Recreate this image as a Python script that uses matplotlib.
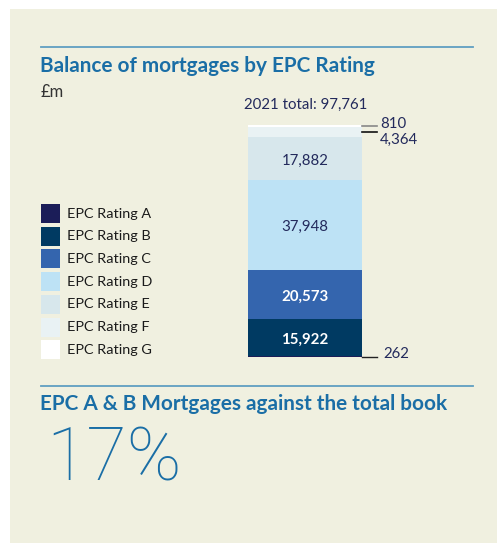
import matplotlib
matplotlib.use("Agg")
import matplotlib.pyplot as plt
from matplotlib.patches import Rectangle

# --- Dados (£m) ---
ratings = ["EPC Rating A", "EPC Rating B", "EPC Rating C", "EPC Rating D",
           "EPC Rating E", "EPC Rating F", "EPC Rating G"]
balances = [262, 15922, 20573, 37948, 17882, 4364, 810]
year = 2021

colors = ["#1b1d58", "#003a62", "#3465ae", "#bde2f5", "#d7e7ec", "#e9f2f4", "#ffffff"]
bg = "#f0f0e0"
blue = "#1a6ea6"
navy = "#232a5c"

W, H = 497, 543
fig = plt.figure(figsize=(W / 100, H / 100), dpi=100)
fig.patch.set_facecolor("white")

def fx(px):
    return px / W

def fy(py):
    return 1 - py / H

# painel de fundo
fig.patches.append(Rectangle((fx(10), 0), 1 - fx(10), fy(9), transform=fig.transFigure,
                             facecolor=bg, edgecolor="none", zorder=-5))

# linhas divisórias
for y in (47, 386):
    fig.add_artist(plt.Line2D([fx(41), fx(473)], [fy(y), fy(y)], color="#5f9fc2", lw=1.3))

fig.text(fx(40), fy(66), "Balance of mortgages by EPC Rating", family="Lato", weight="bold",
         fontsize=14.95, color=blue, va="center")
fig.text(fx(41), fy(92), "£m", family="Lato", fontsize=12, color="#333333", va="center")

total = sum(balances)
fig.text(fx(306), fy(105), f"{year} total: {total:,}", family="Lato", fontsize=10.8,
         color=navy, ha="center", va="center")

# --- Barra empilhada ---
bar_l, bar_r, bar_b, bar_t = 248, 362, 357, 125
ax = fig.add_axes([fx(bar_l), fy(bar_b), fx(440) - fx(bar_l), fy(bar_t) - fy(bar_b)])
ax.set_xlim(0, (440 - bar_l) / (bar_r - bar_l))
ax.set_ylim(0, total)
ax.axis("off")
px = total / (bar_b - bar_t)  # valor correspondente a 1 pixel

bottom = 0
mids = []
for val, col in zip(balances, colors):
    ax.bar(0.5, val, width=1, bottom=bottom, color=col, edgecolor="none")
    mids.append(bottom + val / 2)
    bottom += val

# rótulos dentro da barra (B..E)
for i in (1, 2, 3, 4):
    txt_col = "white" if i in (1, 2) else navy
    ax.text(0.5, mids[i] - 2.5 * px, f"{balances[i]:,}", ha="center", va="center", family="Lato",
            weight="bold" if i in (1, 2) else "normal", fontsize=10.8, color=txt_col)

# linhas de chamada para os segmentos pequenos
x0, x1 = 1.0, 1 + 15 / (bar_r - bar_l)
ax.plot([x0, x1], [0, 0], color="#222222", lw=1, clip_on=False)
ax.text(1 + 21 / (bar_r - bar_l), 3 * px, f"{balances[0]:,}", family="Lato",
        fontsize=10.8, color=navy, va="center", ha="left")

yg = total - 0.6 * px
yf = total - 6.5 * px
ax.plot([x0, x1], [yg, yg], color="#888888", lw=1.2, clip_on=False)
ax.plot([x0, x1], [yf, yf], color="#111111", lw=1.2, clip_on=False)
ax.text(1 + 18 / (bar_r - bar_l), total + 1 * px, f"{balances[6]:,}", family="Lato",
        fontsize=10.8, color=navy, va="center", ha="left")
ax.text(1 + 18 / (bar_r - bar_l), total - 14.5 * px, f"{balances[5]:,}", family="Lato",
        fontsize=10.8, color=navy, va="center", ha="left")

# --- Legenda ---
for i, (lab, col) in enumerate(zip(ratings, colors)):
    top = 204 + i * 22.7
    fig.patches.append(Rectangle((fx(41), fy(top + 19)), fx(60) - fx(41), fy(top) - fy(top + 19),
                                 transform=fig.transFigure, facecolor=col, edgecolor="none"))
    fig.text(fx(67), fy(top + 9.5), lab, family="Lato", fontsize=10.4, color="#1a1a1a", va="center")

# --- Percentual A & B ---
ab_share = (balances[0] + balances[1]) / total
fig.text(fx(40), fy(404), "EPC A & B Mortgages against the total book", family="Lato",
         weight="bold", fontsize=14.95, color=blue, va="center")
fig.text(fx(46), fy(460), f"{ab_share:.0%}", family="Roboto", weight="light", fontsize=53,
         color=blue, va="center")

fig.savefig("out.png", dpi=100, facecolor=fig.get_facecolor())
